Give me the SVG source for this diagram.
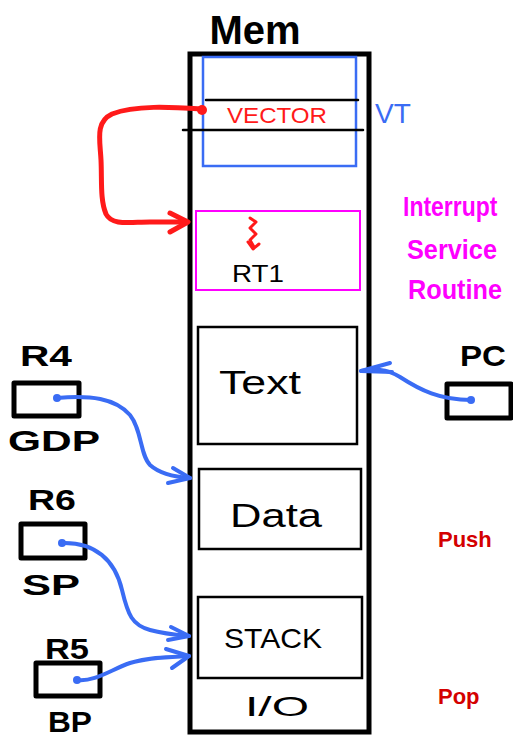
<svg xmlns="http://www.w3.org/2000/svg" width="513" height="740" viewBox="0 0 513 740">
  <defs>
    <style>
      .ink { fill: none; stroke: #000; stroke-linecap: round; stroke-linejoin: round; }
      .box { fill: none; stroke: #000; stroke-width: 2.5; }
      .reg { fill: none; stroke: #000; stroke-width: 5; stroke-linejoin: round; }
      .blue { fill: none; stroke: #3a6cf4; stroke-width: 4; stroke-linecap: round; stroke-linejoin: round; }
      .red { fill: none; stroke: #ff1a1a; stroke-width: 5; stroke-linecap: round; stroke-linejoin: round; }
      .lbl { font-family: "Liberation Sans", Arial, sans-serif; fill: #000; }
      .regl { font-family: "Liberation Sans", Arial, sans-serif; font-weight: bold; font-size: 30px; fill: #000; }
      .isr { font-family: "Liberation Sans", Arial, sans-serif; font-weight: bold; font-size: 28px; fill: #ff00ff; }
      .note { font-family: "Liberation Sans", Arial, sans-serif; font-weight: bold; font-size: 22px; fill: #d40000; }
    </style>
  </defs>

  <!-- memory column -->
  <g id="mem">
    <text class="lbl" x="255" y="44" font-size="40" font-weight="bold" text-anchor="middle">Mem</text>
    <rect x="190" y="54" width="179" height="678" fill="none" stroke="#000" stroke-width="5"/>
  </g>

  <!-- vector table -->
  <g id="vt">
    <rect x="203" y="57" width="153" height="109" fill="none" stroke="#3a6cf4" stroke-width="2.5"/>
    <line class="ink" x1="206" y1="100" x2="358" y2="100" stroke-width="2.5"/>
    <line class="ink" x1="183" y1="130" x2="363" y2="130" stroke-width="2.5"/>
    <text x="277" y="123" font-family="Liberation Sans, Arial, sans-serif" font-size="22" fill="#ff1a1a" text-anchor="middle" textLength="100" lengthAdjust="spacingAndGlyphs">VECTOR</text>
    <text x="375" y="123" font-family="Liberation Sans, Arial, sans-serif" font-size="28" fill="#3a6cf4">VT</text>
  </g>

  <!-- interrupt service routine -->
  <g id="isr">
    <rect x="196" y="211" width="164" height="79" fill="none" stroke="#ff00ff" stroke-width="2"/>
    <path d="M250,218 L256,222 L250,228 L256,234 L250,240 L254,247" fill="none" stroke="#ff1a1a" stroke-width="3" stroke-linecap="round" stroke-linejoin="round"/>
    <path d="M248,242 L253,249 L259,244" fill="none" stroke="#ff1a1a" stroke-width="3" stroke-linecap="round" stroke-linejoin="round"/>
    <text class="lbl" x="258" y="282" font-size="24" text-anchor="middle" textLength="52" lengthAdjust="spacingAndGlyphs">RT1</text>
    <text class="isr" transform="translate(403,216) scale(0.82,1)">Interrupt</text>
    <text class="isr" x="452" y="259" text-anchor="middle" textLength="90" lengthAdjust="spacingAndGlyphs">Service</text>
    <text class="isr" x="455" y="299" text-anchor="middle" textLength="94" lengthAdjust="spacingAndGlyphs">Routine</text>
  </g>

  <!-- segments -->
  <g id="text-seg">
    <rect class="box" x="198" y="327" width="159" height="117"/>
    <text class="lbl" x="260" y="394" font-size="34" text-anchor="middle" textLength="82" lengthAdjust="spacingAndGlyphs">Text</text>
  </g>
  <g id="data-seg">
    <rect class="box" x="199" y="469" width="162" height="80"/>
    <text class="lbl" x="276" y="527" font-size="34" text-anchor="middle" textLength="92" lengthAdjust="spacingAndGlyphs">Data</text>
  </g>
  <g id="stack-seg">
    <rect class="box" x="198" y="597" width="164" height="81"/>
    <text class="lbl" x="273" y="648" font-size="28" text-anchor="middle" textLength="98" lengthAdjust="spacingAndGlyphs">STACK</text>
  </g>
  <g id="io">
    <text class="lbl" x="277" y="716" font-size="28" text-anchor="middle" textLength="64" lengthAdjust="spacingAndGlyphs">I/O</text>
  </g>

  <!-- registers -->
  <g id="pc">
    <text class="regl" x="483" y="366" text-anchor="middle" textLength="46" lengthAdjust="spacingAndGlyphs">PC</text>
    <rect class="reg" x="447" y="384" width="64" height="34"/>
  </g>
  <g id="r4">
    <text class="regl" x="46" y="366" text-anchor="middle" textLength="52" lengthAdjust="spacingAndGlyphs">R4</text>
    <rect class="reg" x="14" y="383" width="65" height="33"/>
    <text class="regl" x="54" y="451" text-anchor="middle" textLength="92" lengthAdjust="spacingAndGlyphs">GDP</text>
  </g>
  <g id="r6">
    <text class="regl" x="52" y="510" text-anchor="middle" textLength="48" lengthAdjust="spacingAndGlyphs">R6</text>
    <rect class="reg" x="21" y="524" width="64" height="34"/>
    <text class="regl" x="51" y="595" text-anchor="middle" textLength="58" lengthAdjust="spacingAndGlyphs">SP</text>
  </g>
  <g id="r5">
    <text class="regl" x="67" y="659" text-anchor="middle" textLength="44" lengthAdjust="spacingAndGlyphs">R5</text>
    <rect class="reg" x="36" y="663" width="64" height="33"/>
    <text class="regl" x="70" y="732" font-size="28" text-anchor="middle" textLength="44" lengthAdjust="spacingAndGlyphs">BP</text>
  </g>

  <!-- stack notes -->
  <g id="push"><text class="note" x="438" y="547">Push</text></g>
  <g id="pop"><text class="note" x="438" y="704">Pop</text></g>

  <!-- connectors -->
  <g id="connectors">
    <!-- vector entry to service routine -->
    <circle cx="202" cy="110" r="5" fill="#ff1a1a"/>
    <path class="red" d="M202,109 C170,107 135,105 112,114 C95,122 100,140 101,160 C102,180 100,200 106,214 C112,226 130,222 150,222 L186,222"/>
    <path class="red" d="M170,213 L188,222 L170,232"/>
    <!-- PC to text segment -->
    <circle cx="471" cy="400" r="4" fill="#3a6cf4"/>
    <path class="blue" d="M471,400 C440,400 420,390 400,377 C385,368 375,369 361,371"/>
    <path class="blue" d="M390,363 L361,371 L392,372"/>
    <!-- GDP to data segment -->
    <circle cx="57" cy="398" r="4" fill="#3a6cf4"/>
    <path class="blue" d="M57,398 C90,395 115,398 130,415 C142,430 140,455 150,465 C160,474 175,477 190,478"/>
    <path class="blue" d="M173,468 L190,478 L168,483"/>
    <!-- SP to stack segment -->
    <circle cx="62" cy="543" r="4" fill="#3a6cf4"/>
    <path class="blue" d="M62,543 C95,542 115,560 122,590 C128,615 132,625 150,630 C165,634 178,635 189,636"/>
    <path class="blue" d="M171,627 L189,636 L168,640"/>
    <!-- BP to stack segment -->
    <circle cx="77" cy="680" r="4" fill="#3a6cf4"/>
    <path class="blue" d="M77,680 C95,682 110,670 130,663 C150,657 170,657 189,656"/>
    <path class="blue" d="M166,649 L189,656 L172,668"/>
  </g>
</svg>
